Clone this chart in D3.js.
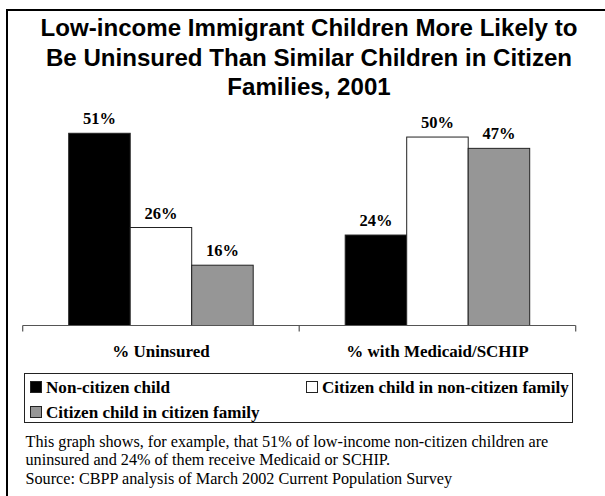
<!DOCTYPE html>
<html>
<head>
<meta charset="utf-8">
<script src="https://cdn.jsdelivr.net/npm/d3@7"></script>
<style>
  html, body { margin: 0; padding: 0; background: #fff; }
  svg { display: block; }
</style>
</head>
<body>
<svg id="chart" width="605" height="496"></svg>
<script>
const titleLines = [
  "Low-income Immigrant Children More Likely to",
  "Be Uninsured Than Similar Children in Citizen",
  "Families, 2001"
];
const categories = ["% Uninsured", "% with Medicaid/SCHIP"];
const seriesNames = ["Non-citizen child", "Citizen child in non-citizen family", "Citizen child in citizen family"];
const nonCitizenChild = [51, 24];
const citizenChildNonCitizenFamily = [26, 50];
const citizenChildCitizenFamily = [16, 47];
const seriesColors = ["#000000", "#ffffff", "#969696"];
const noteLines = [
  "This graph shows, for example, that 51% of low-income non-citizen children are",
  "uninsured and 24% of them receive Medicaid or SCHIP.",
  "Source: CBPP analysis of March 2002 Current Population Survey"
];

const seriesValues = [nonCitizenChild, citizenChildNonCitizenFamily, citizenChildCitizenFamily];
const svg = d3.select("#chart");
const serif = "Liberation Serif, Times New Roman, serif";

// outer frame
svg.append("rect").attr("x", 7).attr("y", 10).attr("width", 620).attr("height", 520)
  .attr("fill", "none").attr("stroke", "#000").attr("stroke-width", 2);

// title
svg.append("g").selectAll("text").data(titleLines).join("text")
  .attr("x", 309).attr("y", (d, i) => 36 + i * 29.7)
  .attr("text-anchor", "middle")
  .attr("font-family", "Liberation Sans, Arial, sans-serif")
  .attr("font-weight", "bold").attr("font-size", 24.1)
  .attr("fill", "#000")
  .text(d => d);

// scales
const x0 = d3.scaleBand().domain(categories).range([22.7, 575.7]).paddingInner(0).paddingOuter(0);
const x1 = d3.scaleBand().domain(d3.range(seriesNames.length)).range([46, x0.bandwidth() - 46]);
const baseY = 325.5;
const y = d3.scaleLinear().domain([0, 60]).range([baseY, baseY - 60 * 3.769]);

const data = [];
categories.forEach((c, ci) => seriesValues.forEach((vals, si) => data.push({ c, si, v: vals[ci] })));

const g = svg.append("g");
g.selectAll("rect.bar").data(data).join("rect")
  .attr("class", "bar")
  .attr("x", d => x0(d.c) + x1(d.si))
  .attr("y", d => y(d.v))
  .attr("width", x1.bandwidth())
  .attr("height", d => y(0) - y(d.v))
  .attr("fill", d => seriesColors[d.si])
  .attr("stroke", "#222").attr("stroke-width", 1);

g.selectAll("text.val").data(data).join("text")
  .attr("class", "val")
  .attr("x", d => x0(d.c) + x1(d.si) + x1.bandwidth() / 2)
  .attr("y", d => y(d.v) - 9)
  .attr("text-anchor", "middle")
  .attr("font-family", serif)
  .attr("font-weight", "bold").attr("font-size", 16.5)
  .text(d => d.v + "%");

// axis
const axisG = svg.append("g").attr("transform", `translate(0,${baseY})`);
axisG.append("line").attr("x1", 22.7).attr("x2", 575.7).attr("y1", 0).attr("y2", 0)
  .attr("stroke", "#555").attr("stroke-width", 1.2);
const tickXs = [x0.range()[0]].concat(categories.map(c => x0(c) + x0.bandwidth()));
axisG.selectAll("line.tick").data(tickXs).join("line")
  .attr("class", "tick")
  .attr("x1", d => d).attr("x2", d => d).attr("y1", 0).attr("y2", 6)
  .attr("stroke", "#555").attr("stroke-width", 1.2);
axisG.selectAll("text.cat").data(categories).join("text")
  .attr("class", "cat")
  .attr("x", d => x0(d) + x0.bandwidth() / 2)
  .attr("y", 31.5)
  .attr("text-anchor", "middle")
  .attr("font-family", serif)
  .attr("font-weight", "bold").attr("font-size", 17)
  .text(d => d);

// legend
const leg = svg.append("g");
leg.append("rect").attr("x", 24.5).attr("y", 373.5).attr("width", 548).attr("height", 49)
  .attr("fill", "#fff").attr("stroke", "#222").attr("stroke-width", 1);
const legPos = [[30, 393], [306, 393], [30, 418]];
const li = leg.selectAll("g.item").data(seriesNames).join("g").attr("class", "item")
  .attr("transform", (d, i) => `translate(${legPos[i][0]},${legPos[i][1]})`);
li.append("rect").attr("x", 0.5).attr("y", -11.5).attr("width", 11).attr("height", 11)
  .attr("fill", (d, i) => seriesColors[i]).attr("stroke", "#222").attr("stroke-width", 1);
li.append("text").attr("x", 16).attr("y", 0)
  .attr("font-family", serif)
  .attr("font-weight", "bold").attr("font-size", 17.1)
  .text(d => d);

// notes
svg.append("g").selectAll("text").data(noteLines).join("text")
  .attr("x", 25.5).attr("y", (d, i) => [447, 465, 483.5][i])
  .attr("font-family", serif)
  .attr("font-size", 16.2)
  .text(d => d);
</script>
</body>
</html>
